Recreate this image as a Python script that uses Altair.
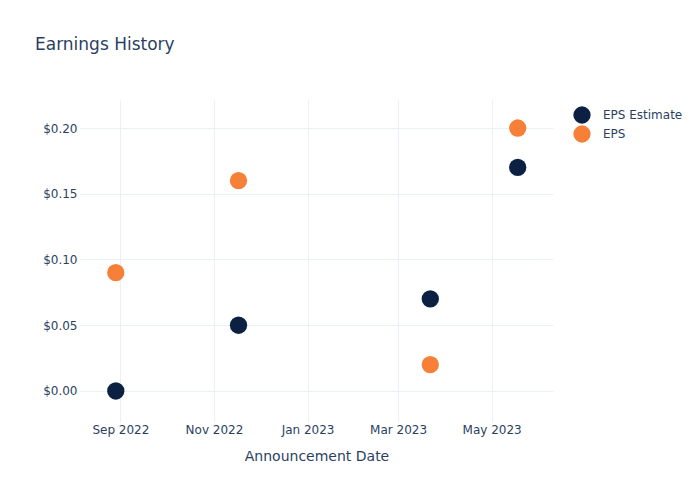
import altair as alt
import pandas as pd

dates = ["2022-08-29", "2022-11-17", "2023-03-22", "2023-05-18"]
eps_estimate = [0.00, 0.05, 0.07, 0.17]
eps_actual = [0.09, 0.16, 0.02, 0.20]
series_names = ["EPS Estimate", "EPS"]
series_colors = ["#0c2142", "#f68038"]
x_ticks = ["2022-09-01", "2022-11-01", "2023-01-01", "2023-03-01", "2023-05-01"]
y_ticks = [0.00, 0.05, 0.10, 0.15, 0.20]

rows = []
for d, e, a in zip(dates, eps_estimate, eps_actual):
    rows.append({"date": d, "series": series_names[0], "value": e})
    rows.append({"date": d, "series": series_names[1], "value": a})
df = pd.DataFrame(rows)

FONT = "DejaVu Sans"
TXT = "#2a3f5f"
GRID = "#ebf0f8"

x_tick_vals = [alt.DateTime(year=int(t[:4]), month=int(t[5:7]), date=int(t[8:10])) for t in x_ticks]

chart = alt.Chart(df).mark_circle(size=300, opacity=1).encode(
    x=alt.X(
        "date:T",
        title="Announcement Date",
        scale=alt.Scale(domain=[
            alt.DateTime(year=2022, month=8, date=5, hours=16),
            alt.DateTime(year=2023, month=6, date=10),
        ]),
        axis=alt.Axis(
            values=x_tick_vals, format="%b %Y", labelFontSize=12, titleFontSize=14,
            labelColor=TXT, titleColor=TXT, labelFont=FONT, titleFont=FONT,
            titleFontWeight="normal", gridColor=GRID, domain=False, ticks=False,
            labelPadding=2, titlePadding=14,
        ),
    ),
    y=alt.Y(
        "value:Q",
        title=None,
        scale=alt.Scale(domain=[-0.0236, 0.2213], nice=False, zero=False),
        axis=alt.Axis(
            values=y_ticks, format="$.2f", labelFontSize=12, labelColor=TXT,
            labelFont=FONT, gridColor=GRID, domain=False, ticks=False, labelPadding=3,
        ),
    ),
    color=alt.Color(
        "series:N",
        scale=alt.Scale(domain=series_names, range=series_colors),
        sort=series_names,
        legend=alt.Legend(
            title=None, orient="none", legendX=493, legendY=6, labelFontSize=12,
            labelColor=TXT, labelFont=FONT, symbolSize=300, symbolType="circle",
            labelOffset=12, rowPadding=1, padding=0, symbolStrokeWidth=0,
            symbolOpacity=1,
        ),
    ),
    order=alt.Order("series:N", sort="descending"),
).properties(
    width=473,
    height=322,
    autosize=alt.AutoSizeParams(type="none"),
    padding={"left": 80, "top": 100, "right": 147, "bottom": 78},
    title=alt.TitleParams(
        "Earnings History", anchor="start", frame="group", fontSize=17, color=TXT,
        font=FONT, fontWeight="normal", dx=-45, offset=46,
    ),
).configure_view(stroke=None)

chart.save("out.html", embed_options={"renderer": "svg", "actions": False})
